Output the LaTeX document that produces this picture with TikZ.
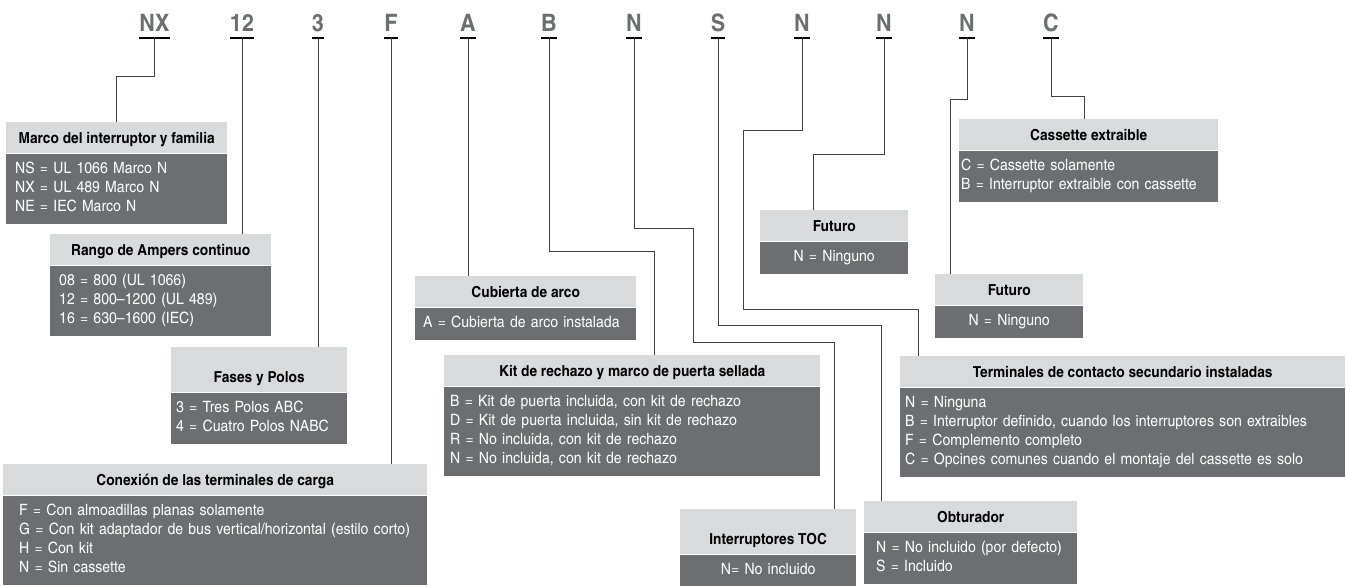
\documentclass[tikz,border=0pt]{standalone}
\usepackage{fontspec}
\setmainfont{texgyreheroscn}[Extension=.otf, UprightFont=*-regular, BoldFont=*-bold, FakeStretch=1.1]
\usetikzlibrary{calc}
\definecolor{hdrgray}{HTML}{D9DADB}
\definecolor{bodygray}{HTML}{6D6E71}

\tikzset{
  codeletter/.style={font=\fontsize{24}{24}\selectfont\bfseries, text=bodygray, inner xsep=0pt, inner ysep=0pt, text depth=6pt, anchor=base},
  hdr/.style={fill=hdrgray, font=\fontsize{15.2}{19}\selectfont\bfseries, inner sep=0pt, text height=21pt, text depth=10pt, anchor=north west},
  tallhdr/.style={hdr, text height=35pt},
  boxbody/.style={fill=bodygray, text=white, font=\fontsize{15.6}{19}\selectfont, inner ysep=6.5pt, anchor=north west, align=left, execute at begin node=\strut, execute at end node=\strut},
  conn/.style={line width=0.9pt, black!75},
}

\begin{document}
\begin{tikzpicture}[x=1pt, y=-1pt]
\useasboundingbox (0,0) rectangle (1346,586);

% catalog number
\node[codeletter] (lnx) at (154.5,32) {NX};
\node[codeletter] (l12) at (242,32) {12};
\node[codeletter] (l3) at (318,32) {3};
\node[codeletter] (lf) at (391,32) {F};
\node[codeletter] (la) at (468,32) {A};
\node[codeletter] (lb) at (549,32) {B};
\node[codeletter] (ln1) at (634,32) {N};
\node[codeletter] (ls) at (718,32) {S};
\node[codeletter] (ln2) at (802,32) {N};
\node[codeletter] (ln3) at (884,32) {N};
\node[codeletter] (ln4) at (967,32) {N};
\node[codeletter] (lc) at (1051,32) {C};
\foreach \l in {lnx,l12,l3,lf,la,lb,ln1,ls,ln2,ln3,ln4,lc}
  \draw[line width=1.6pt] (\l.south west) -- (\l.south east);

% boxes
\node[hdr, minimum width=221pt] (marco) at (6,122) {Marco del interruptor y familia};
\node[boxbody, inner xsep=9pt, text width=203pt] (marcob) at (marco.south west)
  {NS = UL 1066 Marco N\\NX = UL 489 Marco N\\NE = IEC Marco N};

\node[hdr, minimum width=221pt] (rango) at (50,234) {Rango de Ampers continuo};
\node[boxbody, inner xsep=9pt, text width=203pt] (rangob) at (rango.south west)
  {08 = 800 (UL 1066)\\12 = 800--1200 (UL 489)\\16 = 630--1600 (IEC)};

\node[tallhdr, minimum width=176pt] (fases) at (171,347) {Fases y Polos};
\node[boxbody, inner xsep=5pt, text width=166pt] (fasesb) at (fases.south west)
  {3 = Tres Polos ABC\\4 = Cuatro Polos NABC};

\node[hdr, minimum width=424pt] (conex) at (3,464) {Conexión de las terminales de carga};
\node[boxbody, inner xsep=16pt, text width=392pt] (conexb) at (conex.south west)
  {F = Con almoadillas planas solamente\\G = Con kit adaptador de bus vertical/horizontal (estilo corto)\\H = Con kit\\N = Sin cassette};

\node[hdr, minimum width=221pt] (arco) at (415,276) {Cubierta de arco};
\node[boxbody, inner xsep=8pt, text width=205pt] (arcob) at (arco.south west)
  {A = Cubierta de arco instalada};

\node[hdr, minimum width=376pt] (kit) at (444,355) {Kit de rechazo y marco de puerta sellada};
\node[boxbody, inner xsep=6pt, text width=364pt] (kitb) at (kit.south west)
  {B = Kit de puerta incluida, con kit de rechazo\\D = Kit de puerta incluida, sin kit de rechazo\\R = No incluida, con kit de rechazo\\N = No incluida, con kit de rechazo};

\node[tallhdr, minimum width=176pt] (toc) at (680,509) {Interruptores TOC};
\node[boxbody, align=center, inner xsep=5pt, text width=166pt] (tocb) at (toc.south west)
  {N= No incluido};

\node[hdr, minimum width=213pt] (obtur) at (864,501) {Obturador};
\node[boxbody, inner xsep=12pt, text width=189pt] (obturb) at (obtur.south west)
  {N = No incluido (por defecto)\\S = Incluido};

\node[hdr, minimum width=445pt] (term) at (900,356) {Terminales de contacto secundario instaladas};
\node[boxbody, inner xsep=5pt, text width=435pt] (termb) at (term.south west)
  {N = Ninguna\\B = Interruptor definido, cuando los interruptores son extraibles\\F = Complemento completo\\C = Opcines comunes cuando el montaje del cassette es solo};

\node[hdr, minimum width=148pt] (fut1) at (760,210) {Futuro};
\node[boxbody, align=center, inner xsep=5pt, text width=138pt] (fut1b) at (fut1.south west)
  {N = Ninguno};

\node[hdr, minimum width=148pt] (fut2) at (935,274) {Futuro};
\node[boxbody, align=center, inner xsep=5pt, text width=138pt] (fut2b) at (fut2.south west)
  {N = Ninguno};

\node[hdr, minimum width=259pt] (cass) at (959,119) {Cassette extraible};
\node[boxbody, inner xsep=2pt, text width=255pt] (cassb) at (cass.south west)
  {C = Cassette solamente\\B = Interruptor extraible con cassette};

% connectors
\draw[conn] (lnx.south) -- ++(0,38) -| (marco.north);
\draw[conn] (l12.south) -- (l12.south |- rango.north);
\draw[conn] (l3.south) -- (l3.south |- fases.north);
\draw[conn] (lf.south) -- (lf.south |- conex.north);
\draw[conn] (la.south) -- (la.south |- arco.north);
\draw[conn] (lb.south) -- ++(0,213) -| ($(kit.north west)+(210,0)$);
\draw[conn] (ln1.south) -- ++(0,190) -| ++(59,114) -| ($(toc.north west)+(154,0)$);
\draw[conn] (ls.south) -- ++(0,287) -| ($(obtur.north west)+(17,0)$);
\draw[conn] (ln2.south) -- ++(0,92) -| ++(-59,179) -| ($(term.north west)+(18,0)$);
\draw[conn] (ln3.south) -- ++(0,116) -| ($(fut1.north west)+(53,0)$);
\draw[conn] (ln4.south) -- ++(0,61) -| ($(fut2.north west)+(15,0)$);
\draw[conn] (lc.south) -- ++(0,58) -| ($(cass.north west)+(125,0)$);
\end{tikzpicture}
\end{document}
